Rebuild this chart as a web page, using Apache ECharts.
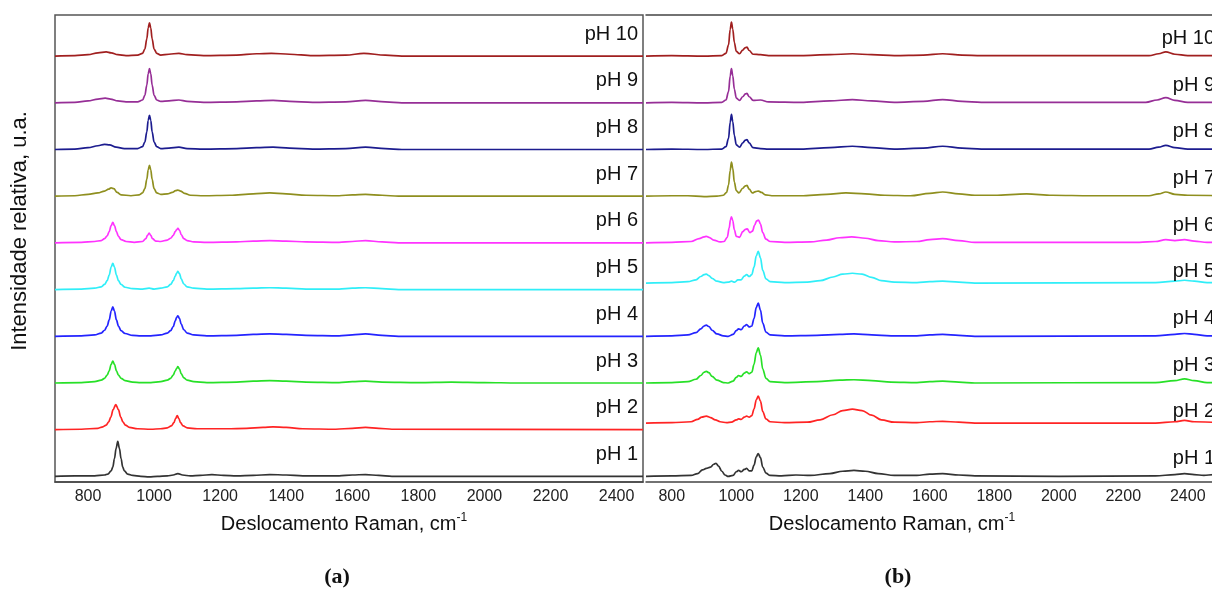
<!DOCTYPE html>
<html>
<head>
<meta charset="utf-8">
<script src="https://cdn.jsdelivr.net/npm/echarts@6/dist/echarts.min.js"></script>
<style>
html,body{margin:0;padding:0;background:#fff;overflow:hidden;}
#chart{width:1232px;height:590px;}
</style>
</head>
<body>
<div id="chart"></div>
<script>
// ---------- labels & colours ----------
const phLabels = ['pH 1','pH 2','pH 3','pH 4','pH 5','pH 6','pH 7','pH 8','pH 9','pH 10'];
const phColors = ['#333333','#ff2424','#27e027','#2424ff','#30eef8','#ff33ff','#8f8f1f','#1c1c8f','#962e96','#a01f1f'];
const panelLabels = ['(a)','(b)'];
const xTitle = 'Deslocamento Raman, cm';
const yTitle = 'Intensidade relativa, u.a.';

// vertical offsets of the stacked spectra (relative units)
const offsetsA = [0,1,2,3,4,5,6,7,8,9];
const offsetsB = [0,1.14,2,3,4.14,5,6,7,8,9];

// ---------- panel (a) spectra: [wavenumber, intensity, ...] ----------
const a_pH1 = [700,0,760,0.01,820,0.01,850,0.03,860,0.05,870,0.12,875,0.2,880,0.38,885,0.6,890,0.75,895,0.6,900,0.38,905,0.2,910,0.12,920,0.05,935,0.02,960,0,985,-0.01,1010,0,1040,0.01,1058,0.03,1072,0.06,1086,0.03,1110,0.01,1140,0.02,1175,0.04,1210,0.02,1250,0.01,1300,0.02,1350,0.04,1400,0.03,1450,0.01,1560,0.01,1600,0.03,1640,0.04,1680,0.02,1720,0,2480,0];
const a_pH2 = [700,0,780,0.01,830,0.03,845,0.06,855,0.1,862,0.16,869,0.27,876,0.43,884,0.54,892,0.43,899,0.27,906,0.16,913,0.1,925,0.05,950,0.02,990,0.01,1020,0.02,1040,0.04,1052,0.08,1060,0.15,1065,0.24,1070,0.3,1075,0.24,1080,0.15,1088,0.08,1100,0.04,1130,0.02,1170,0.02,1220,0.02,1280,0.03,1330,0.05,1360,0.06,1400,0.05,1450,0.02,1550,0.01,1600,0.03,1640,0.05,1680,0.03,1720,0.01,2480,0];
const a_pH3 = [700,0,780,0.01,820,0.03,840,0.06,850,0.1,858,0.17,864,0.26,870,0.4,875,0.47,880,0.4,886,0.26,892,0.17,900,0.1,912,0.05,935,0.02,960,0.01,990,0.01,1020,0.03,1040,0.06,1050,0.1,1058,0.17,1064,0.26,1068,0.31,1072,0.35,1077,0.3,1082,0.2,1090,0.11,1100,0.06,1120,0.03,1160,0.01,1250,0.02,1300,0.04,1350,0.05,1400,0.04,1460,0.02,1560,0.01,1600,0.03,1640,0.04,1690,0.02,1800,0.01,1900,0.02,2000,0.01,2100,0,2480,0];
const a_pH4 = [700,0,780,0.01,820,0.03,840,0.07,850,0.13,858,0.22,864,0.35,870,0.54,875,0.63,880,0.54,886,0.35,892,0.22,900,0.12,912,0.06,935,0.02,960,0.01,990,0.01,1020,0.03,1040,0.07,1050,0.12,1058,0.21,1064,0.33,1068,0.4,1072,0.44,1077,0.38,1082,0.26,1090,0.14,1100,0.07,1120,0.03,1160,0.01,1250,0.02,1300,0.04,1350,0.05,1400,0.04,1460,0.02,1560,0.01,1600,0.03,1640,0.05,1690,0.02,1740,0,2480,0];
const a_pH5 = [700,0,780,0.01,820,0.03,840,0.06,850,0.11,858,0.19,864,0.31,870,0.48,875,0.56,880,0.48,886,0.31,892,0.19,900,0.11,912,0.05,935,0.02,965,0.01,985,0.03,1000,0.01,1020,0.03,1040,0.06,1050,0.11,1058,0.19,1064,0.29,1068,0.35,1072,0.39,1077,0.34,1082,0.23,1090,0.12,1100,0.06,1120,0.03,1160,0.01,1250,0.02,1300,0.03,1350,0.04,1400,0.03,1460,0.01,1560,0.01,1600,0.03,1640,0.04,1690,0.02,1740,0,2480,0];
const a_pH6 = [700,0,780,0.01,820,0.03,840,0.05,850,0.09,858,0.15,864,0.24,870,0.37,875,0.44,880,0.37,886,0.24,892,0.14,900,0.07,915,0.03,940,0.01,965,0.03,975,0.09,980,0.16,985,0.21,990,0.16,995,0.09,1005,0.04,1020,0.03,1040,0.06,1050,0.1,1058,0.16,1064,0.24,1068,0.28,1072,0.31,1077,0.27,1082,0.18,1090,0.09,1100,0.05,1120,0.02,1160,0.01,1250,0.02,1300,0.04,1350,0.05,1400,0.04,1460,0.02,1560,0.01,1600,0.03,1640,0.05,1690,0.02,1740,0,2480,0];
const a_pH7 = [700,0,760,0.01,800,0.04,830,0.07,850,0.11,862,0.15,870,0.18,878,0.16,888,0.08,900,0.03,930,0.01,955,0.03,965,0.07,972,0.16,978,0.36,982,0.56,986,0.66,990,0.56,994,0.36,1000,0.16,1008,0.07,1020,0.04,1040,0.05,1055,0.08,1065,0.12,1072,0.13,1080,0.11,1092,0.06,1110,0.02,1150,0.01,1230,0.02,1300,0.05,1350,0.07,1400,0.05,1460,0.02,1560,0.01,1600,0.03,1640,0.04,1690,0.02,1740,0,2480,0];
const a_pH8 = [700,0,760,0.01,800,0.04,830,0.08,850,0.11,865,0.1,885,0.05,910,0.02,950,0.02,965,0.06,972,0.16,978,0.38,982,0.62,986,0.73,990,0.62,994,0.38,1000,0.16,1008,0.06,1020,0.02,1045,0.03,1075,0.05,1100,0.02,1150,0.01,1250,0.02,1310,0.04,1360,0.05,1410,0.03,1480,0.01,1580,0.02,1640,0.05,1700,0.02,1750,0,2480,0];
const a_pH9 = [700,0,760,0.01,800,0.04,830,0.08,852,0.1,868,0.08,890,0.04,915,0.02,950,0.02,965,0.06,972,0.16,978,0.38,982,0.62,986,0.73,990,0.62,994,0.38,1000,0.16,1008,0.06,1020,0.03,1045,0.04,1075,0.06,1100,0.03,1150,0.01,1250,0.02,1310,0.04,1360,0.05,1410,0.03,1480,0.01,1580,0.02,1640,0.05,1700,0.02,1750,0,2480,0];
const a_pH10 = [700,0,760,0.01,800,0.03,830,0.07,855,0.09,870,0.07,890,0.03,915,0.01,950,0.02,965,0.06,972,0.15,978,0.37,982,0.6,986,0.71,990,0.6,994,0.37,1000,0.15,1008,0.06,1020,0.02,1045,0.04,1075,0.06,1100,0.03,1150,0.01,1250,0.02,1310,0.05,1355,0.06,1410,0.04,1480,0.01,1580,0.02,1635,0.06,1700,0.02,1750,0,2480,0];

// ---------- panel (b) spectra ----------
const b_pH1 = [720,0,800,0.01,860,0.02,880,0.06,895,0.14,907,0.17,920,0.2,930,0.26,937,0.28,945,0.22,955,0.11,965,0.03,975,0,990,0.02,1000,0.1,1007,0.13,1015,0.1,1025,0.15,1032,0.17,1040,0.12,1048,0.12,1055,0.24,1062,0.42,1068,0.49,1075,0.4,1082,0.2,1092,0.07,1105,0.02,1140,0.01,1185,0.03,1230,0.02,1290,0.06,1330,0.11,1365,0.13,1400,0.11,1440,0.06,1490,0.02,1560,0.02,1600,0.05,1640,0.06,1690,0.03,1740,0.01,2000,0,2300,0.01,2360,0.04,2390,0.06,2420,0.04,2450,0.02,2480,0.04,2500,0.03];
const b_pH2 = [720,0,800,0.01,860,0.03,880,0.08,893,0.13,907,0.15,920,0.12,935,0.07,950,0.03,970,0.01,985,0.02,1000,0.07,1007,0.09,1015,0.08,1025,0.13,1032,0.15,1040,0.13,1048,0.16,1055,0.3,1062,0.5,1068,0.58,1075,0.47,1082,0.25,1092,0.09,1105,0.03,1150,0.01,1220,0.02,1260,0.07,1300,0.18,1330,0.27,1360,0.3,1390,0.27,1420,0.17,1450,0.07,1490,0.02,1560,0.01,1600,0.03,1640,0.04,1690,0.02,1740,0,2300,0,2360,0.03,2390,0.06,2420,0.03,2500,0.01];
const b_pH3 = [720,0,800,0.01,850,0.03,875,0.08,890,0.16,900,0.23,907,0.25,915,0.22,925,0.14,940,0.06,960,0.01,975,0,990,0.04,1000,0.12,1007,0.16,1015,0.14,1025,0.21,1032,0.24,1040,0.2,1048,0.23,1055,0.4,1062,0.65,1068,0.75,1075,0.6,1082,0.3,1092,0.1,1105,0.03,1150,0.01,1250,0.03,1320,0.06,1365,0.07,1420,0.05,1480,0.02,1560,0.01,1600,0.03,1640,0.04,1690,0.02,1740,0,2300,0.01,2360,0.05,2390,0.09,2420,0.05,2460,0.01,2500,0.01];
const b_pH4 = [720,0,800,0.01,850,0.03,875,0.08,890,0.16,900,0.22,907,0.24,915,0.21,925,0.13,940,0.05,960,0.01,975,0,990,0.04,1000,0.12,1007,0.16,1015,0.14,1025,0.22,1032,0.25,1040,0.2,1048,0.22,1055,0.38,1062,0.62,1068,0.71,1075,0.56,1082,0.28,1092,0.09,1105,0.03,1150,0.01,1250,0.02,1320,0.04,1365,0.05,1420,0.03,1480,0.01,1560,0.01,1600,0.03,1640,0.04,1690,0.02,1740,0,2300,0.01,2360,0.04,2390,0.06,2420,0.04,2460,0.01,2500,0.01];
const b_pH5 = [720,0,800,0.01,850,0.03,875,0.07,890,0.14,900,0.18,907,0.19,915,0.16,925,0.1,940,0.04,960,0.01,975,0.02,985,0.04,995,0.02,1005,0.07,1015,0.07,1025,0.15,1032,0.18,1040,0.14,1048,0.18,1055,0.34,1062,0.58,1068,0.68,1075,0.54,1082,0.27,1092,0.09,1105,0.03,1150,0.01,1220,0.02,1260,0.05,1300,0.13,1330,0.19,1360,0.21,1390,0.19,1420,0.12,1450,0.05,1490,0.02,1560,0.01,1600,0.03,1640,0.04,1690,0.02,1740,0,2300,0.01,2360,0.04,2390,0.06,2420,0.04,2460,0.01,2500,0.01];
const b_pH6 = [720,0,800,0.01,860,0.03,885,0.09,900,0.13,907,0.14,915,0.12,930,0.06,950,0.02,962,0.03,972,0.12,978,0.32,982,0.5,985,0.56,989,0.48,994,0.28,1000,0.14,1010,0.12,1020,0.24,1028,0.29,1034,0.3,1042,0.22,1050,0.25,1057,0.38,1063,0.47,1069,0.49,1075,0.4,1082,0.22,1092,0.08,1105,0.03,1150,0.01,1230,0.02,1280,0.06,1320,0.11,1358,0.13,1400,0.1,1440,0.05,1490,0.02,1560,0.03,1600,0.07,1640,0.09,1690,0.05,1740,0.01,2250,0.01,2300,0.03,2332,0.07,2360,0.05,2390,0.07,2420,0.04,2460,0.01,2500,0.01];
const b_pH7 = [720,0,800,0.01,850,0.01,900,-0.01,940,0,960,0.02,970,0.08,976,0.24,981,0.55,985,0.73,989,0.6,994,0.3,1000,0.12,1008,0.07,1020,0.17,1028,0.22,1033,0.23,1040,0.15,1050,0.07,1060,0.1,1069,0.11,1078,0.08,1090,0.03,1110,0.01,1200,0.01,1280,0.04,1340,0.07,1400,0.05,1460,0.02,1540,0.01,1600,0.06,1640,0.09,1690,0.05,1740,0.02,1800,0.02,1900,0.05,1980,0.02,2100,0.01,2280,0.01,2310,0.05,2332,0.09,2360,0.04,2400,0.02,2500,0.01];
const b_pH8 = [720,0,800,0.01,900,0,955,0.01,968,0.06,976,0.24,981,0.58,985,0.75,989,0.6,994,0.3,1000,0.1,1010,0.05,1020,0.14,1028,0.2,1033,0.21,1040,0.14,1052,0.04,1075,0.02,1100,0.01,1200,0.01,1290,0.04,1360,0.07,1420,0.04,1490,0.01,1580,0.03,1640,0.07,1700,0.03,1760,0.01,2280,0.01,2310,0.05,2332,0.09,2360,0.04,2400,0.01,2500,0.01];
const b_pH9 = [720,0,800,0.01,900,0,955,0.01,968,0.06,976,0.24,981,0.57,985,0.73,989,0.58,994,0.29,1000,0.1,1010,0.05,1020,0.13,1028,0.19,1033,0.2,1040,0.13,1052,0.05,1075,0.06,1100,0.02,1200,0.01,1290,0.04,1360,0.07,1420,0.04,1490,0.01,1580,0.03,1640,0.07,1700,0.03,1760,0.01,2270,0.01,2305,0.06,2332,0.11,2360,0.05,2400,0.01,2500,0.01];
const b_pH10 = [720,0,800,0.01,900,0,955,0.01,968,0.06,976,0.24,981,0.57,985,0.73,989,0.58,994,0.29,1000,0.1,1010,0.05,1020,0.13,1028,0.18,1033,0.19,1040,0.12,1052,0.04,1075,0.03,1100,0.01,1200,0.01,1290,0.03,1360,0.05,1420,0.03,1490,0.01,1580,0.02,1640,0.05,1700,0.02,1760,0.01,2280,0.01,2310,0.05,2332,0.09,2360,0.04,2400,0.01,2500,0.01];

// tick labels shown on both x axes
const xTickLabels = [800,1000,1200,1400,1600,1800,2000,2200,2400];

const specsA = [a_pH1,a_pH2,a_pH3,a_pH4,a_pH5,a_pH6,a_pH7,a_pH8,a_pH9,a_pH10];
const specsB = [b_pH1,b_pH2,b_pH3,b_pH4,b_pH5,b_pH6,b_pH7,b_pH8,b_pH9,b_pH10];

// ---------- layout ----------
const FONT = '"Liberation Sans", Arial, sans-serif';
const AX = {min:700, max:2480, interval:100};
const BX = {min:720, max:2500, interval:40};
const Y = {min:-0.12, max:9.88};
const LIFT_A = 0.47, LIFT_B = 0.38;

function pairs(flat, off){
  const out=[];
  for(let i=0;i<flat.length;i+=2) out.push([flat[i], flat[i+1]+off]);
  return out;
}
function tickFmt(v){ return xTickLabels.indexOf(v) >= 0 ? String(v) : ''; }

const series=[];
function addPanel(specs, offsets, idx, xmax, lift){
  specs.forEach((s,i)=>{
    series.push({
      type:'line', name: phLabels[i] + ' ' + panelLabels[idx],
      xAxisIndex: idx===0?0:1, yAxisIndex: idx,
      data: pairs(s, offsets[i]),
      showSymbol:false, smooth:0.35, smoothMonotone:'x',
      lineStyle:{color:phColors[i], width:1.7},
      itemStyle:{color:phColors[i]},
      silent:true, clip:true,
      markPoint:{
        symbol:'circle', symbolSize:0, silent:true,
        label:{show:true, position:'left', distance:5, formatter:phLabels[i],
               fontFamily:FONT, fontSize:20, color:'#111'},
        data:[{coord:[xmax, i + lift]}]
      }
    });
  });
}
addPanel(specsA, offsetsA, 0, AX.max, LIFT_A);
addPanel(specsB, offsetsB, 1, BX.max, LIFT_B);

const axisLineStyle = {color:'#444', width:1.5};
const nameRich = {
  base:{fontFamily:FONT, fontSize:20, color:'#111', lineHeight:24},
  sup:{fontFamily:FONT, fontSize:12, color:'#111', verticalAlign:'top', lineHeight:24, padding:[0,0,8,0]}
};

const option = {
  animation:false,
  backgroundColor:'#fff',
  grid:[
    {left:55, top:15, width:588, height:467, show:true, borderColor:'#555', borderWidth:1.5, containLabel:false},
    {left:646, top:15, width:574, height:467, show:false, containLabel:false}
  ],
  xAxis:[
    {type:'value', gridIndex:0, min:AX.min, max:AX.max, interval:AX.interval,
     axisLine:{show:true, onZero:false, lineStyle:axisLineStyle}, axisTick:{show:false}, splitLine:{show:false},
     axisLabel:{formatter:tickFmt, fontFamily:FONT, fontSize:16, color:'#222', margin:7, showMinLabel:true, showMaxLabel:true},
     name:'{base|'+xTitle+'}{sup|-1}', nameLocation:'middle', nameGap:30,
     nameTextStyle:{rich:nameRich, padding:[0,10,0,0]}},
    {type:'value', gridIndex:1, min:BX.min, max:BX.max, interval:BX.interval,
     axisLine:{show:true, onZero:false, lineStyle:axisLineStyle}, axisTick:{show:false}, splitLine:{show:false},
     axisLabel:{formatter:tickFmt, fontFamily:FONT, fontSize:16, color:'#222', margin:7},
     name:'{base|'+xTitle+'}{sup|-1}', nameLocation:'middle', nameGap:30,
     nameTextStyle:{rich:nameRich, padding:[0,82,0,0]}},
    {type:'value', gridIndex:1, position:'top', min:BX.min, max:BX.max,
     axisLine:{show:true, onZero:false, lineStyle:axisLineStyle}, axisTick:{show:false},
     axisLabel:{show:false}, splitLine:{show:false}}
  ],
  yAxis:[
    {type:'value', gridIndex:0, min:Y.min, max:Y.max,
     axisLine:{show:false}, axisTick:{show:false}, axisLabel:{show:false}, splitLine:{show:false},
     name:yTitle, nameLocation:'middle', nameRotate:90, nameGap:24,
     nameTextStyle:{fontFamily:FONT, fontSize:22, color:'#111', padding:[0,0,0,35]}},
    {type:'value', gridIndex:1, min:Y.min, max:Y.max,
     axisLine:{show:false}, axisTick:{show:false}, axisLabel:{show:false}, splitLine:{show:false}}
  ],
  graphic:[
    {type:'text', x:337, y:577, style:{text:panelLabels[0], font:'bold 22px "Liberation Serif", "Times New Roman", serif', fill:'#111', textAlign:'center', textVerticalAlign:'middle'}},
    {type:'text', x:898, y:577, style:{text:panelLabels[1], font:'bold 22px "Liberation Serif", "Times New Roman", serif', fill:'#111', textAlign:'center', textVerticalAlign:'middle'}}
  ],
  series: series
};

const chart = echarts.init(document.getElementById('chart'), null, {renderer:'canvas'});
chart.setOption(option);
</script>
</body>
</html>
